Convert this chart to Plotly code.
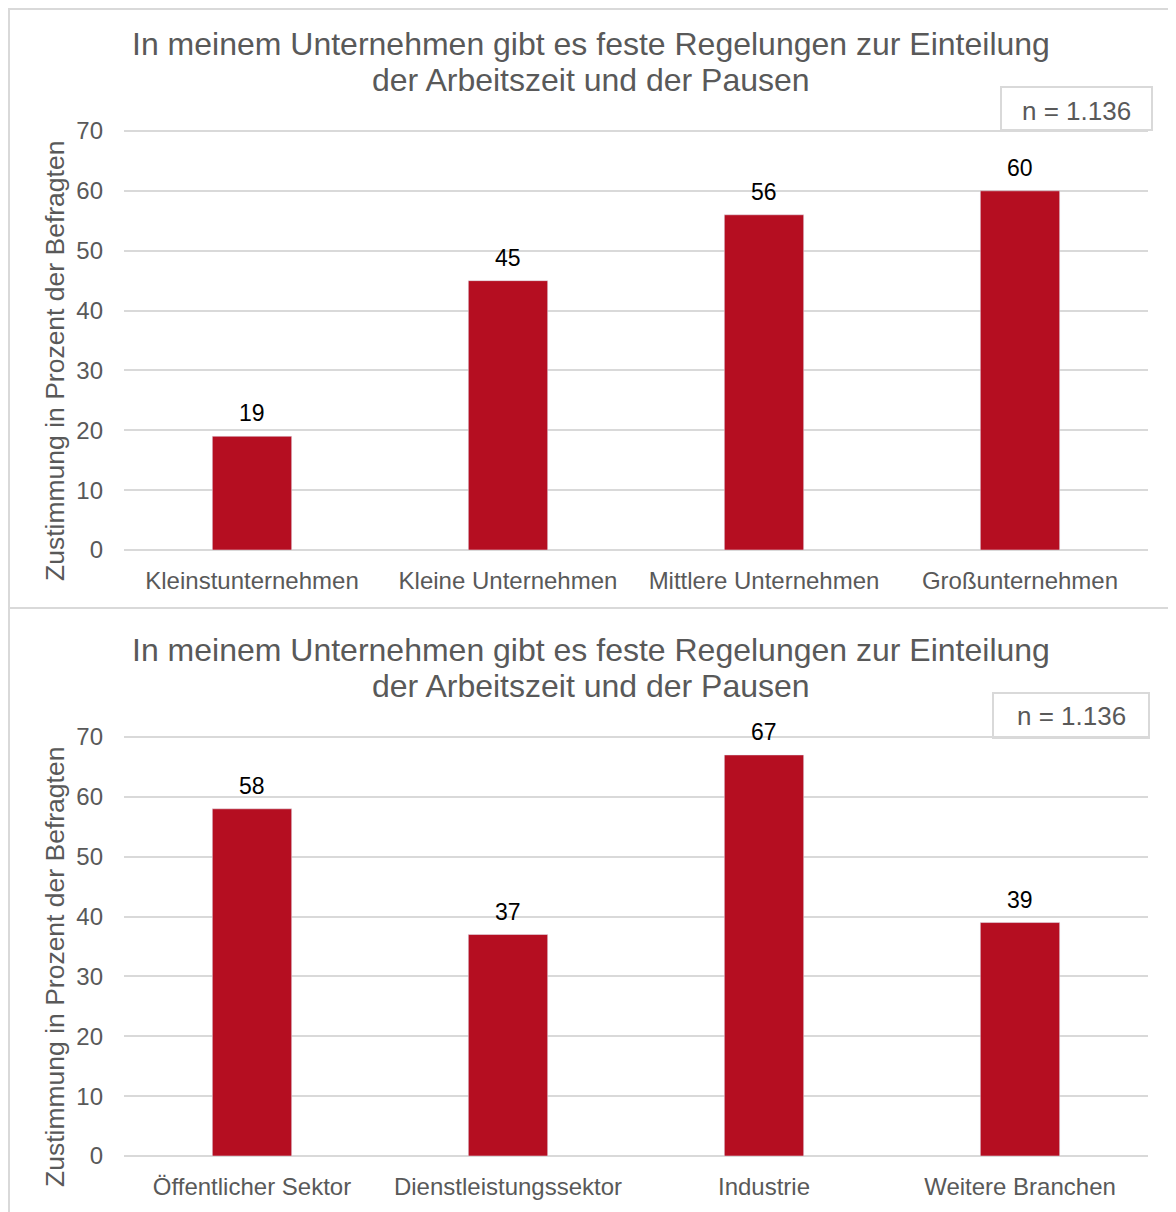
import plotly.graph_objects as go

# data
groesse = ['Kleinstunternehmen', 'Kleine Unternehmen', 'Mittlere Unternehmen', 'Großunternehmen']
groesse_werte = [19, 45, 56, 60]
branche = ['Öffentlicher Sektor', 'Dienstleistungssektor', 'Industrie', 'Weitere Branchen']
branche_werte = [58, 37, 67, 39]
y_ticks = [0, 10, 20, 30, 40, 50, 60, 70]
titel_1 = 'In meinem Unternehmen gibt es feste Regelungen zur Einteilung'
titel_2 = 'der Arbeitszeit und der Pausen'
y_titel = 'Zustimmung in Prozent der Befragten'
n_text = 'n = 1.136'

# the page body has an 8px margin, so the figure is shrunk by that much
OFF = 8
W, H = 1176 - OFF, 1212 - OFF
BAR = '#B50E21'
GRAY = '#595959'
GRID = '#D9D9D9'
FONT = 'Liberation Sans, Arial, sans-serif'
YMAX = 70.4  # a little headroom so the 70 gridline is drawn


def px(pix):
    return (pix - OFF) / W


def py(pix):
    return 1 - (pix - OFF) / H


fig = go.Figure()

panels = [(groesse, groesse_werte, 'x', 'y'), (branche, branche_werte, 'x2', 'y2')]
for cats, vals, xa, ya in panels:
    fig.add_trace(go.Bar(x=cats, y=vals, marker_color=BAR, xaxis=xa, yaxis=ya))
    # value labels sit a bit higher above the bars than plotly's own outside text
    for c, v in zip(cats, vals):
        fig.add_annotation(text=str(v), x=c, y=v, xref=xa, yref=ya,
                           yanchor='bottom', yshift=8, showarrow=False,
                           font=dict(size=23, color='black'))

unit = 419 / 70  # pixels per percent
axis_x = dict(domain=[px(124), px(1148)], showgrid=False, showline=False, zeroline=False,
              tickfont=dict(size=24, color=GRAY), ticks='', ticklabelstandoff=14,
              automargin=False)
axis_y = dict(range=[0, YMAX], tickvals=y_ticks, showgrid=True, gridcolor=GRID, gridwidth=2,
              zeroline=True, zerolinecolor=GRID, zerolinewidth=2,
              tickfont=dict(size=24, color=GRAY), ticks='', ticklabelstandoff=20,
              automargin=False)

fig.update_layout(
    width=W, height=H,
    margin=dict(l=0, r=0, t=0, b=0, autoexpand=False),
    paper_bgcolor='white', plot_bgcolor='white',
    font=dict(family=FONT, color=GRAY),
    showlegend=False,
    bargap=0.69,
    xaxis=dict(axis_x, anchor='y'),
    yaxis=dict(axis_y, domain=[py(550), py(550 - YMAX * unit)], anchor='x'),
    xaxis2=dict(axis_x, anchor='y2'),
    yaxis2=dict(axis_y, domain=[py(1156), py(1156 - YMAX * unit)], anchor='x2'),
)

# titles, axis titles and n labels for both panels
for top, n_y, n_x in [(0, 111, 1076), (606, 716, 1071)]:
    for text, y in [(titel_1, 44), (titel_2, 80)]:
        fig.add_annotation(text=text, x=px(591), y=py(top + y), xref='paper', yref='paper',
                           xanchor='center', yanchor='middle', showarrow=False,
                           font=dict(size=32, color=GRAY))
    fig.add_annotation(text=y_titel, x=px(55), y=py(top + 361), xref='paper', yref='paper',
                       xanchor='center', yanchor='middle', showarrow=False, textangle=-90,
                       font=dict(size=26.5, color=GRAY))
    fig.add_annotation(text=n_text, x=px(n_x), y=py(n_y), xref='paper', yref='paper',
                       xanchor='center', yanchor='middle', showarrow=False,
                       font=dict(size=26, color=GRAY))

# boxes around n
fig.add_shape(type='rect', xref='paper', yref='paper',
              x0=px(1001), x1=px(1152), y0=py(130), y1=py(87),
              line=dict(color=GRID, width=2), fillcolor='white', layer='below')
fig.add_shape(type='rect', xref='paper', yref='paper',
              x0=px(993), x1=px(1149), y0=py(738), y1=py(693),
              line=dict(color=GRID, width=2), fillcolor='white', layer='below')

# panel frames
fig.add_shape(type='rect', xref='paper', yref='paper',
              x0=px(9), x1=px(1180), y0=py(608), y1=py(9),
              line=dict(color=GRID, width=2))
fig.add_shape(type='rect', xref='paper', yref='paper',
              x0=px(9), x1=px(1180), y0=py(1216), y1=py(608),
              line=dict(color=GRID, width=2))

fig.write_html('out.html')
